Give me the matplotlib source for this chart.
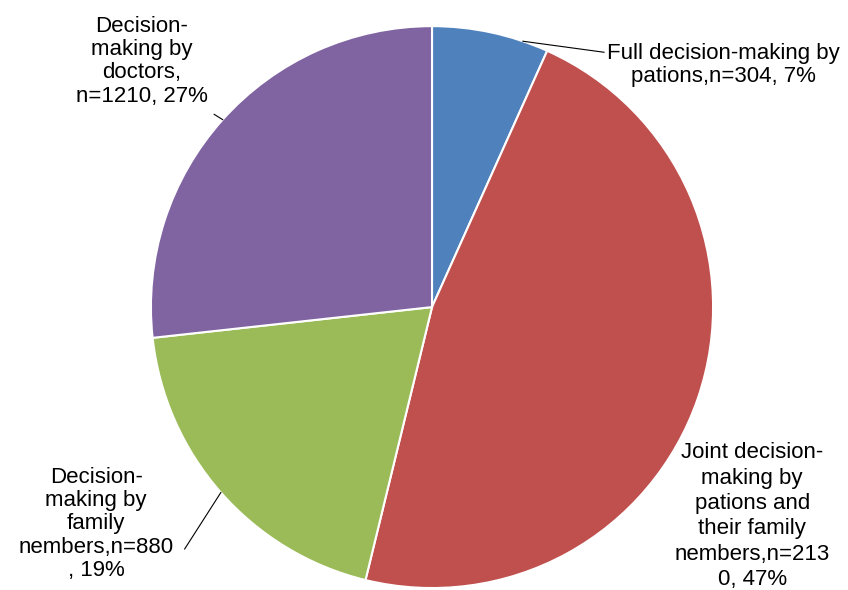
import numpy as np
import matplotlib
matplotlib.use("Agg")
import matplotlib.pyplot as plt

plt.rcParams['font.family'] = ['Liberation Sans', 'DejaVu Sans']

# data
categories = ["Full decision-making by pations", "Joint decision-making by pations and their family nembers",
              "Decision-making by family nembers", "Decision-making by doctors"]
counts = [304, 2130, 880, 1210]
labels = ["Full decision-making by\npations,n=304, 7%",
          "Joint decision-\nmaking by\npations and\ntheir family\nnembers,n=213\n0, 47%",
          "Decision-\nmaking by\nfamily\nnembers,n=880\n, 19%",
          "Decision-\nmaking by\ndoctors,\nn=1210, 27%"]
colors = ["#4F81BD", "#C0504D", "#9BBB59", "#8064A2"]

# label placement (data units, pie radius = 1)
label_pos = [(1.037, 0.861), (1.139, -0.744), (-1.195, -0.772), (-1.032, 0.875)]
label_spacing = [1.15, 1.27, 1.15, 1.15]
# leader line: text end point, None = no leader
leader_end = [(0.612, 0.907), None, (-0.880, -0.861), (-0.775, 0.686)]


def main():
    fig = plt.figure(figsize=(8.48, 5.90), dpi=100)
    ax = fig.add_axes([0, 0, 1, 1])
    wedges, _ = ax.pie(counts, colors=colors, startangle=90, counterclock=False, radius=1,
                       wedgeprops=dict(edgecolor="white", linewidth=1.5))
    ax.set_xlim(-1.537, 1.480)
    ax.set_ylim(-1.007, 1.093)
    ax.set_aspect('auto')
    ax.axis('off')

    for w, lab, pos, sp, end in zip(wedges, labels, label_pos, label_spacing, leader_end):
        ax.text(pos[0], pos[1], lab, ha='center', va='center', fontsize=16,
                linespacing=sp, color='black')
        if end is not None:
            ang = (w.theta1 + w.theta2) / 2
            if w is wedges[0]:
                ang = w.theta1 + 0.22 * (w.theta2 - w.theta1)
            a = np.deg2rad(ang)
            ax.plot([end[0], np.cos(a)], [end[1], np.sin(a)], color='black', lw=0.8)

    fig.savefig("out.png", dpi=100)


if __name__ == "__main__":
    main()
